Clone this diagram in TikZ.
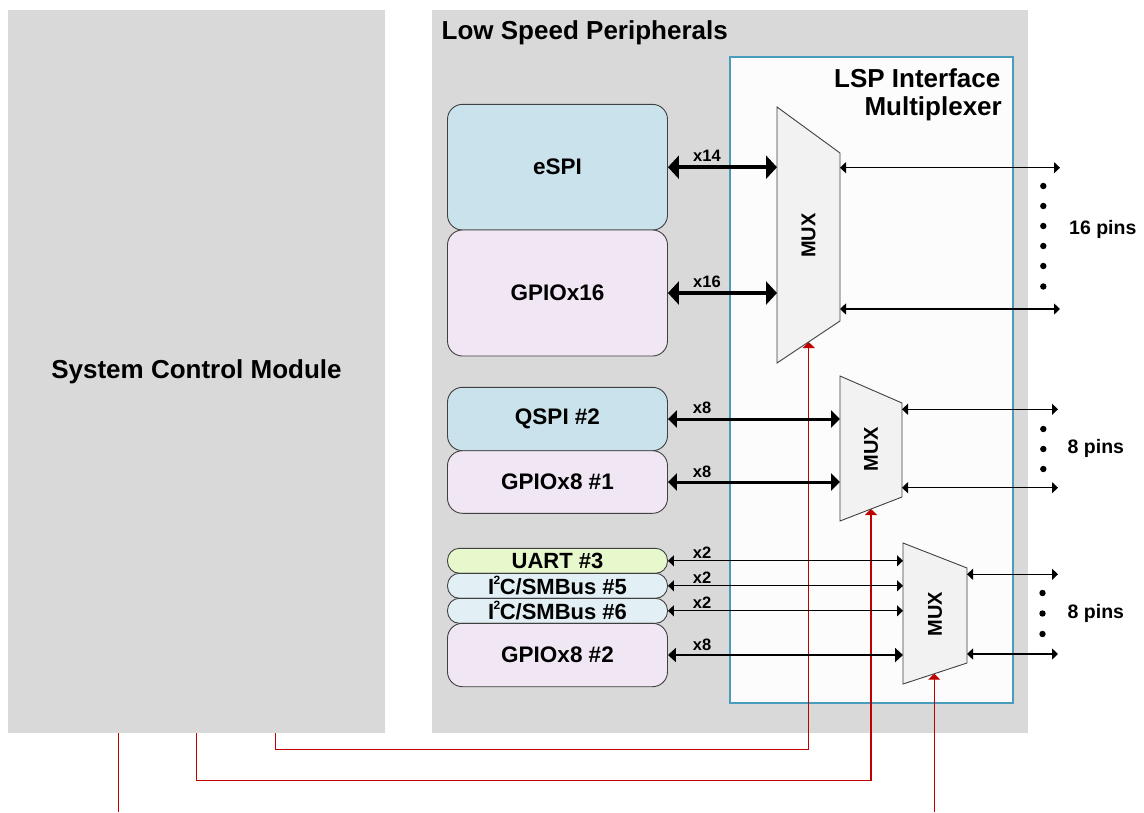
\documentclass[tikz,border=0pt]{standalone}
\usepackage{fontspec}
\setmainfont{Liberation Sans}
\usetikzlibrary{arrows.meta}
\definecolor{panel}{HTML}{D9D9D9}
\definecolor{muxbox}{HTML}{FCFCFC}
\definecolor{muxedge}{HTML}{4A9CBE}
\definecolor{muxfill}{HTML}{F2F2F2}
\definecolor{spiblue}{HTML}{C9E2EB}
\definecolor{gpiopink}{HTML}{F1E6F3}
\definecolor{uartgreen}{HTML}{E6F8CC}
\definecolor{i2cblue}{HTML}{E2EFF5}
\definecolor{ctrlred}{HTML}{C00000}
\definecolor{edgegray}{HTML}{404040}
\newcommand{\fsz}[1]{\fontsize{#1}{#1}\selectfont\bfseries}
\newcommand{\sqtwo}{\kern-0.5pt\raisebox{0.45em}{\fontsize{12}{12}\selectfont 2}\kern-0.5pt}
\begin{document}
\begin{tikzpicture}[x=1pt,y=-1pt,
  panelbox/.style={fill=panel,draw=none,inner sep=0pt},
  title/.style={font=\fsz{26},inner sep=0pt},
  periph/.style={draw=edgegray,line width=0.9pt,rounded corners=15pt,minimum width=220pt,inner sep=0pt,font=\fsz{22.5}},
  smallperiph/.style={periph,rounded corners=12pt,minimum height=25pt,font=\fsz{22}},
  muxshape/.style={fill=muxfill,draw=edgegray,line width=0.9pt},
  muxlabel/.style={font=\fsz{20},rotate=90,inner sep=0pt},
  buslabel/.style={font=\fsz{16.5},inner sep=0pt},
  pinlabel/.style={font=\fsz{19.5},inner sep=0pt,anchor=west},
  widebus/.style={line width=4.5pt,{Triangle[length=11pt,width=23pt]}-{Triangle[length=11pt,width=23pt]}},
  midbus/.style={line width=3pt,{Triangle[length=9pt,width=17pt]}-{Triangle[length=9pt,width=17pt]}},
  thinbus/.style={line width=1.3pt,{Triangle[length=6pt,width=11pt]}-{Triangle[length=6pt,width=11pt]}},
  ctrl/.style={draw=ctrlred,line width=1.3pt},
  ctrlarrow/.style={ctrl,-{Triangle[length=6pt,width=12pt]}}
]
\useasboundingbox (0,0) rectangle (1144,812);

% panels
\node[panelbox,minimum width=377pt,minimum height=723pt,font=\fsz{26}] (scm) at (196.5,371.5) {System Control Module};
\node[panelbox,minimum width=596pt,minimum height=723pt] (lsp) at (730,371.5) {};
\node[title,anchor=base west] (lsptitle) at (441.5,39.5) {Low Speed Peripherals};
\node[fill=muxbox,draw=muxedge,line width=2pt,minimum width=283pt,minimum height=646pt,inner sep=0pt] (lim) at (871.5,380) {};
\node[title,anchor=base east] (limt1) at (1000.5,87.5) {LSP Interface};
\node[title,anchor=base east] (limt2) at (1002,115.7) {Multiplexer};

% peripherals
\node[periph,fill=spiblue,minimum height=125.7pt] (espi) at (557.5,167.2) {eSPI};
\node[periph,fill=gpiopink,minimum height=126pt] (gpio16) at (557.5,293) {GPIOx16};
\node[periph,fill=spiblue,minimum height=63.4pt] (qspi) at (557.5,419) {QSPI \#2};
\node[periph,fill=gpiopink,minimum height=62.6pt] (gpio81) at (557.5,482) {GPIOx8 \#1};
\node[smallperiph,fill=uartgreen] (uart) at (557.5,560.8) {UART \#3};
\node[smallperiph,fill=i2cblue] (i2cf) at (557.5,585.8) {I\sqtwo C/SMBus \#5};
\node[smallperiph,fill=i2cblue] (i2cs) at (557.5,610.8) {I\sqtwo C/SMBus \#6};
\node[periph,fill=gpiopink,minimum height=63.4pt] (gpio82) at (557.5,655) {GPIOx8 \#2};

% MUX corners
\coordinate (m1tl) at (777,107); \coordinate (m1tr) at (840,153);
\coordinate (m1br) at (840,321); \coordinate (m1bl) at (777,363);
\coordinate (m2tl) at (840,376); \coordinate (m2tr) at (902,403);
\coordinate (m2br) at (902,497); \coordinate (m2bl) at (840,521);
\coordinate (m3tl) at (903,543); \coordinate (m3tr) at (967,568);
\coordinate (m3br) at (967,663); \coordinate (m3bl) at (903,684);

% control lines (red)
\coordinate (r1k1) at (275.5,749.3); \coordinate (r1k2) at (808.7,749.3); \coordinate (r1end) at (808.7,342);
\coordinate (r2k1) at (196.4,780.7); \coordinate (r2k2) at (871,780.7); \coordinate (r2end) at (871,509);
\coordinate (r3end) at (118.6,812);
\coordinate (r4start) at (934.3,812); \coordinate (r4end) at (934.3,673.7);
\draw[ctrlarrow] (scm.south -| r1k1) -- (r1k1) -- (r1k2) -- (r1end);
\draw[ctrlarrow] (scm.south -| r2k1) -- (r2k1) -- (r2k2) -- (r2end);
\draw[ctrl] (scm.south -| r3end) -- (r3end);
\draw[ctrlarrow] (r4start) -- (r4end);

% MUX shapes
\draw[muxshape] (m1tl) -- (m1tr) -- (m1br) -- (m1bl) -- cycle;
\draw[muxshape] (m2tl) -- (m2tr) -- (m2br) -- (m2bl) -- cycle;
\draw[muxshape] (m3tl) -- (m3tr) -- (m3br) -- (m3bl) -- cycle;
\node[muxlabel] (mux1) at (808.5,235.5) {MUX};
\node[muxlabel] (mux2) at (871,449) {MUX};
\node[muxlabel] (mux3) at (935,614) {MUX};

% peripheral buses
\draw[widebus] (espi.east) -- (espi.east -| m1tl);
\draw[widebus] (gpio16.east) -- (gpio16.east -| m1tl);
\draw[midbus] (qspi.east) -- (qspi.east -| m2tl);
\draw[midbus] (gpio81.east) -- (gpio81.east -| m2tl);
\draw[thinbus] (uart.east) -- (uart.east -| m3tl);
\draw[thinbus] (i2cf.east) -- (i2cf.east -| m3tl);
\draw[thinbus] (i2cs.east) -- (i2cs.east -| m3tl);
\draw[line width=2.6pt,{Triangle[length=8pt,width=14pt]}-{Triangle[length=8pt,width=14pt]}] (gpio82.east) -- (gpio82.east -| m3tl);

\node[buslabel] (lx14) at (707,155.5) {x14};
\node[buslabel] (lx16) at (707,281.5) {x16};
\node[buslabel] (lx8a) at (702,407.5) {x8};
\node[buslabel] (lx8b) at (702,472.3) {x8};
\node[buslabel] (lx2a) at (702,552.5) {x2};
\node[buslabel] (lx2b) at (702,577.5) {x2};
\node[buslabel] (lx2c) at (702,602.5) {x2};
\node[buslabel] (lx8c) at (702,645) {x8};

% pin side
\coordinate (p1a) at (1060,167.7); \coordinate (p1b) at (1060,309);
\coordinate (p2a) at (1058,409.3); \coordinate (p2b) at (1058,487.7);
\coordinate (p3a) at (1058,574.3); \coordinate (p3b) at (1058,654);
\draw[thinbus] (m1tr |- p1a) -- (p1a);
\draw[thinbus] (m1tr |- p1b) -- (p1b);
\draw[thinbus] (m2tr |- p2a) -- (p2a);
\draw[thinbus] (m2tr |- p2b) -- (p2b);
\draw[thinbus] (m3tr |- p3a) -- (p3a);
\draw[thinbus] (m3tr |- p3b) -- (p3b);

\foreach \yy in {186,206,226,246,266,286.5} \fill (1043.3,\yy) circle[radius=3.2pt];
\foreach \yy in {429,449,469} \fill (1043.3,\yy) circle[radius=3.2pt];
\foreach \yy in {593,613.5,634} \fill (1042.5,\yy) circle[radius=3.2pt];

\node[pinlabel] (pins1) at (1069,229) {16 pins};
\node[pinlabel] (pins2) at (1067.5,448.5) {8 pins};
\node[pinlabel] (pins3) at (1067.5,613.5) {8 pins};
\end{tikzpicture}
\end{document}
